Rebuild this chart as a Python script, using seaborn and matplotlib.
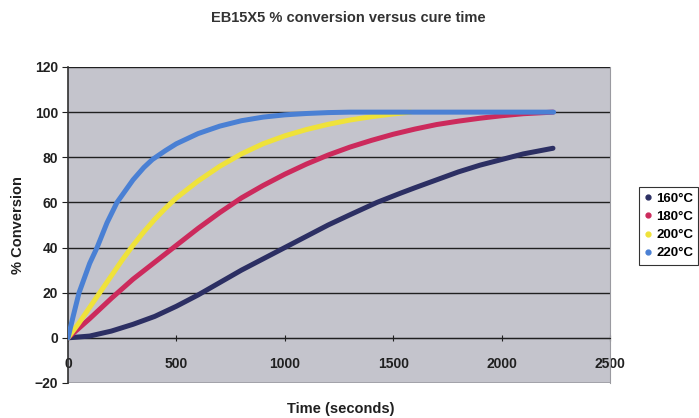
import pandas as pd
import seaborn as sns
import matplotlib.pyplot as plt
from matplotlib.lines import Line2D

# Cure time (seconds) and % conversion for each temperature
t_160 = [0, 100, 200, 300, 400, 500, 600, 700, 800, 900, 1000, 1100, 1200, 1300, 1425, 1531, 1600, 1700, 1800, 1900, 2000, 2100, 2237]
c_160 = [0, 0.8, 3, 6, 9.5, 14, 19, 24.5, 30, 35, 40, 45, 50, 54.5, 60, 64, 66.5, 70, 73.5, 76.5, 79, 81.5, 84]

t_180 = [0, 100, 200, 300, 400, 500, 600, 700, 800, 900, 1000, 1100, 1200, 1300, 1400, 1500, 1600, 1700, 1800, 1900, 2000, 2100, 2237]
c_180 = [0, 8.5, 17.5, 26, 33.5, 41, 48.5, 55.5, 62, 67.5, 72.5, 77, 81, 84.5, 87.5, 90.2, 92.5, 94.5, 96, 97.3, 98.4, 99.3, 100]

t_200 = [0, 50, 100, 150, 200, 250, 300, 350, 400, 450, 500, 600, 700, 800, 900, 1000, 1100, 1200, 1300, 1400, 1500, 1580]
c_200 = [0, 6.5, 13.5, 20.5, 27.5, 34.5, 41, 47, 52.5, 57.5, 62, 69.5, 76, 81.5, 86, 89.5, 92.3, 94.6, 96.5, 98, 99.2, 100]

t_220 = [0, 25, 51, 100, 134, 180, 226, 300, 350, 389, 450, 500, 600, 700, 800, 900, 1000, 1100, 1200, 1300, 1600, 2000, 2240]
c_220 = [0, 10, 20, 33, 40, 51, 60, 70, 75.5, 79, 83, 86, 90.5, 93.8, 96.2, 97.8, 98.8, 99.4, 99.8, 100, 100, 100, 100]

labels = ['160°C', '180°C', '200°C', '220°C']
colors = ['#2c2f63', '#cc2a5c', '#efe23a', '#4a80d4']

frames = []
for lab, t, c in zip(labels, [t_160, t_180, t_200, t_220], [c_160, c_180, c_200, c_220]):
    frames.append(pd.DataFrame({'time': t, 'conv': c, 'temp': lab}))
df = pd.concat(frames, ignore_index=True)

plt.rcParams['font.family'] = ['Liberation Sans', 'DejaVu Sans']
plt.rcParams['font.weight'] = 'bold'

fig = plt.figure(figsize=(6.99, 4.18), dpi=100)
ax = fig.add_axes([68 / 699, 1 - 383 / 418, 542 / 699, 316 / 418])
ax.set_facecolor('#c4c4cc')

sns.lineplot(data=df, x='time', y='conv', hue='temp', palette=dict(zip(labels, colors)),
             linewidth=3.6, sort=False, legend=False, ax=ax, zorder=3,
             solid_joinstyle='round', solid_capstyle='round')

ax.set_xlim(0, 2500)
ax.set_ylim(-20, 120)
ax.set_xticks(range(0, 2501, 500))
ax.set_yticks(range(-20, 121, 20))
ax.grid(axis='y', color='#202020', linewidth=1.0, zorder=1)
ax.grid(axis='x', visible=False)

ax.spines['bottom'].set_position(('data', 0))
ax.spines['bottom'].set_color('#202020')
ax.spines['left'].set_color('#303030')
ax.spines['left'].set_linewidth(1.2)
ax.spines['right'].set_color('#9a9aa0')
ax.spines['top'].set_visible(False)

ax.tick_params(axis='x', direction='inout', length=5, pad=11, labelsize=10, colors='#202020')
ax.tick_params(axis='y', direction='out', length=4, pad=3, labelsize=10, colors='#202020')

ax.set_xlabel('')
ax.set_ylabel('% Conversion', fontsize=10.5, fontweight='bold', color='#202020', labelpad=7)
fig.text(341 / 699, 1 - 409 / 418, 'Time (seconds)', ha='center', va='center',
         fontsize=10.5, fontweight='bold', color='#202020')
fig.text(348 / 699, 1 - 18 / 418, 'EB15X5 % conversion versus cure time', ha='center', va='center',
         fontsize=10.5, fontweight='bold', color='#333333')

handles = [Line2D([], [], linestyle='none', marker='o', markersize=3.5, color=c) for c in colors]
leg = fig.legend(handles, labels, loc='center left', bbox_to_anchor=(639 / 699, 1 - 226 / 418),
                 frameon=True, fancybox=False, edgecolor='black', fontsize=9.5,
                 handlelength=0.5, handletextpad=0.4, borderpad=0.4, labelspacing=0.45,
                 borderaxespad=0)
leg.get_frame().set_linewidth(0.8)

plt.savefig('out.png', dpi=100)
